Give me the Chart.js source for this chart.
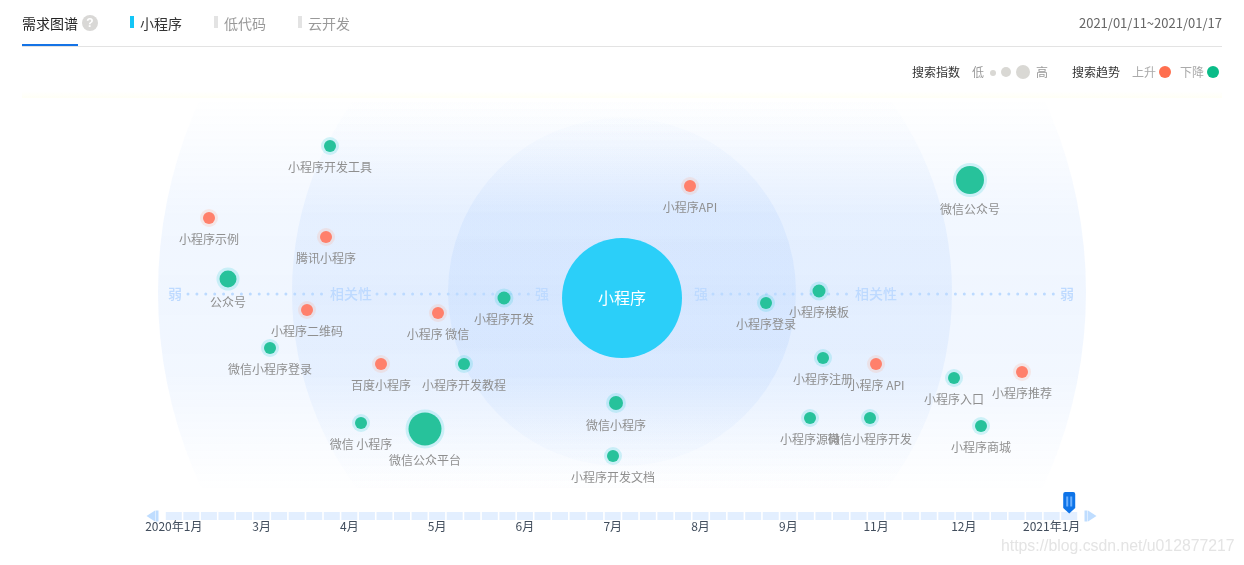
<!DOCTYPE html>
<html lang="zh">
<head>
<meta charset="utf-8">
<title>需求图谱</title>
<script src="https://cdn.jsdelivr.net/npm/chart.js@4"></script>
<style>
    html, body { margin: 0; padding: 0; background: #fff; }
    body { width: 1244px; height: 565px; position: relative; overflow: hidden; font-family: "Noto Sans CJK SC", "Noto Sans", sans-serif; }
    canvas { position: absolute; left: 0; display: block; }
    #graphChart { top: 0; z-index: 0; }
    #timelineChart { top: 490px; z-index: 1; }
    .txt { position: absolute; white-space: nowrap; line-height: 18px; z-index: 2; }
    .tab { font-size: 14px; top: 14px; }
    .mark { position: absolute; width: 4px; height: 12px; top: 16px; background: #e3e3e3; z-index: 2; }
    .leg { font-size: 12px; top: 63px; }
    .dot { position: absolute; border-radius: 50%; z-index: 2; }
</style>
</head>
<body>
<canvas id="graphChart" width="1244" height="565"></canvas>
<canvas id="timelineChart" width="1244" height="50"></canvas>

<div class="txt tab" style="left:22px;color:#222">需求图谱</div>
<div class="dot" style="left:82px;top:15px;width:16px;height:16px;background:#d9d8d6;color:#fff;font:bold 12px/16px 'Liberation Sans';text-align:center">?</div>
<div style="position:absolute;left:22px;top:46px;width:1200px;height:1px;background:#e3e3e3;z-index:2"></div>
<div style="position:absolute;left:22px;top:44px;width:56px;height:2px;background:#1473e6;z-index:3"></div>
<div class="mark" style="left:130px;background:#13c6f7"></div>
<div class="txt tab" style="left:140px;color:#333">小程序</div>
<div class="mark" style="left:214px"></div>
<div class="txt tab" style="left:224px;color:#999">低代码</div>
<div class="mark" style="left:298px"></div>
<div class="txt tab" style="left:308px;color:#999">云开发</div>
<div class="txt" style="right:22px;top:14px;font-size:13px;color:#666">2021/01/11~2021/01/17</div>

<div class="txt leg" style="left:912px;color:#333">搜索指数</div>
<div class="txt leg" style="left:972px;color:#999">低</div>
<div class="dot" style="left:990px;top:70px;width:6px;height:6px;background:#d9d8d4"></div>
<div class="dot" style="left:1001px;top:67px;width:10px;height:10px;background:#d9d8d4"></div>
<div class="dot" style="left:1016px;top:65px;width:14px;height:14px;background:#d9d8d4"></div>
<div class="txt leg" style="left:1036px;color:#999">高</div>
<div class="txt leg" style="left:1072px;color:#333">搜索趋势</div>
<div class="txt leg" style="left:1132px;color:#aaa">上升</div>
<div class="dot" style="left:1159px;top:66px;width:12px;height:12px;background:#ff6f4f"></div>
<div class="txt leg" style="left:1180px;color:#aaa">下降</div>
<div class="dot" style="left:1207px;top:66px;width:12px;height:12px;background:#0abc88"></div>

<div class="txt" style="left:1001px;top:537px;font:15.8px/18px 'Liberation Sans';color:#e4e4e4">https://blog.csdn.net/u012877217</div>

<script>
// Keywords around the centre term
const centerWord = '小程序';
const keywords = ['小程序开发工具', '小程序示例', '腾讯小程序', '公众号', '小程序二维码', '小程序 微信', '小程序开发', '微信小程序登录', '百度小程序', '小程序开发教程', '微信 小程序', '微信公众平台', '微信小程序', '小程序开发文档', '小程序API', '微信公众号', '小程序登录', '小程序模板', '小程序注册', '小程序 API', '小程序入口', '小程序推荐', '小程序源码', '微信小程序开发', '小程序商城'];
// horizontal distance from the centre term, signed
const relevance = [-292, -413, -296, -394, -315, -184, -118, -352, -241, -158, -261, -197, -6, -9, 68, 348, 144, 197, 201, 254, 332, 400, 188, 248, 359];
// vertical spread, no meaning beyond layout of the cloud
const spread = [152, 80, 61, 19, -12, -15, 0, -50, -66, -66, -125, -131, -105, -158, 112, 118, -5, 7, -60, -66, -80, -74, -120, -120, -128];
const searchIndex = [12, 12, 12, 17, 12, 12, 13, 12, 12, 12, 12, 33, 14, 12, 12, 28, 12, 13, 12, 12, 12, 12, 12, 12, 12];
const trend = ['down', 'up', 'up', 'down', 'up', 'up', 'down', 'down', 'up', 'down', 'down', 'down', 'down', 'down', 'up', 'down', 'down', 'down', 'down', 'up', 'down', 'up', 'down', 'down', 'down'];

// Relevance bands and the dotted axis
const bandReach = [464, 330, 174];
const bandCentre = 6;
const axisLevel = 4;
const axisDots = [[-434, -299], [-245, -92], [91, 226], [280, 433]];
const axisWords = [['弱', -447, 14], ['相关性', -271, 14], ['强', -80, 14], ['强', 79, 14], ['相关性', 254, 14], ['弱', 445, 14]];

// Timeline rail
const weekCount = 52;
const railValues = new Array(weekCount).fill(1);
const weekLabels = railValues.map((v, i) => 'W' + (i + 1));
const monthTicks = ['2020年1月', '3月', '4月', '5月', '6月', '7月', '8月', '9月', '11月', '12月', '2021年1月'];
const selectedWeek = 'W52';

const FONT = '"Noto Sans CJK SC", "Noto Sans", sans-serif';
const COLORS = {
    up: '#ff806b',
    down: '#27c29b',
    upHalo: 'rgba(255, 150, 110, 0.17)',
    downHalo: 'rgba(40, 205, 215, 0.2)'
};

const points = keywords.map((word, i) => ({ x: relevance[i], y: spread[i], r: searchIndex[i] / 2, word, trend: trend[i] }));

// Soft bands, top strip and dotted axis under the bubbles
const bandPlugin = {
    id: 'bands',
    beforeDatasetsDraw(chart) {
        const { ctx, scales: { x, y } } = chart;
        const cx = x.getPixelForValue(0);
        const cy = y.getPixelForValue(bandCentre);
        const top = 98;
        const bottom = 492;

        ctx.save();
        const strip = ctx.createLinearGradient(0, 91, 0, top);
        strip.addColorStop(0, 'rgba(255, 255, 240, 0)');
        strip.addColorStop(1, 'rgba(255, 255, 235, 0.5)');
        ctx.fillStyle = strip;
        ctx.fillRect(22, 91, 1200, top - 91);

        ctx.beginPath();
        ctx.rect(0, top, chart.width, bottom - top);
        ctx.clip();
        const fade = ctx.createLinearGradient(0, top, 0, bottom);
        fade.addColorStop(0, 'rgba(45, 129, 255, 0)');
        fade.addColorStop(0.3, 'rgba(45, 129, 255, 0.062)');
        fade.addColorStop(0.5, 'rgba(45, 129, 255, 0.072)');
        fade.addColorStop(0.7, 'rgba(45, 129, 255, 0.062)');
        fade.addColorStop(1, 'rgba(45, 129, 255, 0)');
        ctx.fillStyle = fade;
        bandReach.forEach(reach => {
            ctx.beginPath();
            ctx.arc(cx, cy, x.getPixelForValue(reach) - cx, 0, Math.PI * 2);
            ctx.fill();
        });
        ctx.restore();

        ctx.save();
        const level = y.getPixelForValue(axisLevel);
        ctx.strokeStyle = '#bcdaff';
        ctx.lineWidth = 3;
        ctx.lineCap = 'round';
        ctx.setLineDash([0, 8.9]);
        axisDots.forEach(([from, to]) => {
            ctx.beginPath();
            ctx.moveTo(x.getPixelForValue(from), level);
            ctx.lineTo(x.getPixelForValue(to), level);
            ctx.stroke();
        });
        ctx.setLineDash([]);
        ctx.fillStyle = '#bedaff';
        ctx.textAlign = 'center';
        ctx.textBaseline = 'middle';
        axisWords.forEach(([word, at, size]) => {
            ctx.font = `500 ${size}px ${FONT}`;
            ctx.fillText(word, x.getPixelForValue(at), level);
        });
        ctx.restore();
    }
};

// Keyword under each bubble, centre word inside the big one
const labelPlugin = {
    id: 'wordLabels',
    afterDatasetsDraw(chart) {
        const { ctx, scales: { x, y } } = chart;
        ctx.save();
        ctx.textAlign = 'center';
        ctx.textBaseline = 'middle';
        ctx.font = `12px ${FONT}`;
        ctx.fillStyle = '#8f8f8f';
        points.forEach(p => {
            ctx.fillText(p.word, x.getPixelForValue(p.x), y.getPixelForValue(p.y) + p.r + 15);
        });
        ctx.font = `16px ${FONT}`;
        ctx.fillStyle = '#fff';
        ctx.fillText(centerWord, x.getPixelForValue(0), y.getPixelForValue(0));
        ctx.restore();
    }
};

new Chart(document.getElementById('graphChart'), {
    type: 'bubble',
    data: {
        datasets: [
            {
                label: centerWord,
                data: [{ x: 0, y: 0, r: 60 }],
                backgroundColor: '#2bcff9',
                borderWidth: 0,
                order: 3
            },
            {
                label: 'halo',
                data: points.map(p => ({ x: p.x, y: p.y, r: p.r + 3 })),
                backgroundColor: points.map(p => COLORS[p.trend + 'Halo']),
                borderWidth: 0,
                order: 2
            },
            {
                label: 'keywords',
                data: points,
                backgroundColor: points.map(p => COLORS[p.trend]),
                borderWidth: 0,
                order: 1
            }
        ]
    },
    options: {
        responsive: false,
        animation: false,
        layout: { padding: 0, autoPadding: false },
        plugins: { legend: { display: false }, tooltip: { enabled: false } },
        scales: {
            x: { type: 'linear', display: false, min: -622, max: 622 },
            y: { type: 'linear', display: false, min: -267, max: 298 }
        }
    },
    plugins: [bandPlugin, labelPlugin]
});

// Arrows at both rail ends and the blue handle
const handlePlugin = {
    id: 'railHandle',
    afterDatasetsDraw(chart) {
        const { ctx, chartArea, scales: { x, y } } = chart;
        const railMid = (y.getPixelForValue(1) + y.getPixelForValue(0)) / 2;
        ctx.save();
        ctx.fillStyle = '#bfddff';
        ctx.fillRect(chartArea.left - 9.5, railMid - 5.5, 3, 11);
        ctx.beginPath();
        ctx.moveTo(chartArea.left - 10, railMid - 5.5);
        ctx.lineTo(chartArea.left - 18.5, railMid);
        ctx.lineTo(chartArea.left - 10, railMid + 5.5);
        ctx.fill();
        ctx.fillRect(chartArea.right + 6.5, railMid - 5.5, 3, 11);
        ctx.beginPath();
        ctx.moveTo(chartArea.right + 10, railMid - 5.5);
        ctx.lineTo(chartArea.right + 18.5, railMid);
        ctx.lineTo(chartArea.right + 10, railMid + 5.5);
        ctx.fill();

        const hx = x.getPixelForValue(selectedWeek);
        const hTop = y.getPixelForValue(1) - 20;
        ctx.fillStyle = '#0f74e8';
        ctx.beginPath();
        ctx.moveTo(hx - 6, hTop + 2);
        ctx.quadraticCurveTo(hx - 6, hTop, hx - 4, hTop);
        ctx.lineTo(hx + 4, hTop);
        ctx.quadraticCurveTo(hx + 6, hTop, hx + 6, hTop + 2);
        ctx.lineTo(hx + 6, hTop + 16);
        ctx.lineTo(hx, hTop + 21.5);
        ctx.lineTo(hx - 6, hTop + 16);
        ctx.closePath();
        ctx.fill();
        ctx.fillStyle = '#6db1ff';
        ctx.fillRect(hx - 3, hTop + 4.5, 2, 10);
        ctx.fillRect(hx + 1, hTop + 4.5, 2, 10);
        ctx.restore();
    }
};

new Chart(document.getElementById('timelineChart'), {
    type: 'bar',
    data: {
        labels: weekLabels,
        datasets: [{
            data: railValues,
            backgroundColor: '#e3efff',
            borderWidth: 0,
            categoryPercentage: 1,
            barPercentage: 0.91
        }]
    },
    options: {
        responsive: false,
        animation: false,
        layout: { padding: { left: 165, right: 166, top: 22, bottom: 0 } },
        plugins: { legend: { display: false }, tooltip: { enabled: false } },
        scales: {
            x: {
                afterFit: scale => { scale.height = 20; },
                grid: { display: false, drawTicks: false, tickLength: 0 },
                border: { display: false },
                ticks: {
                    autoSkip: false,
                    maxRotation: 0,
                    padding: -1,
                    color: '#414d5c',
                    font: { size: 12, family: FONT },
                    callback: (v, i) => (i % 5 === 0 ? monthTicks[i / 5] : '')
                }
            },
            y: { display: false, min: 0, max: 1 }
        }
    },
    plugins: [handlePlugin]
});
</script>
</body>
</html>
